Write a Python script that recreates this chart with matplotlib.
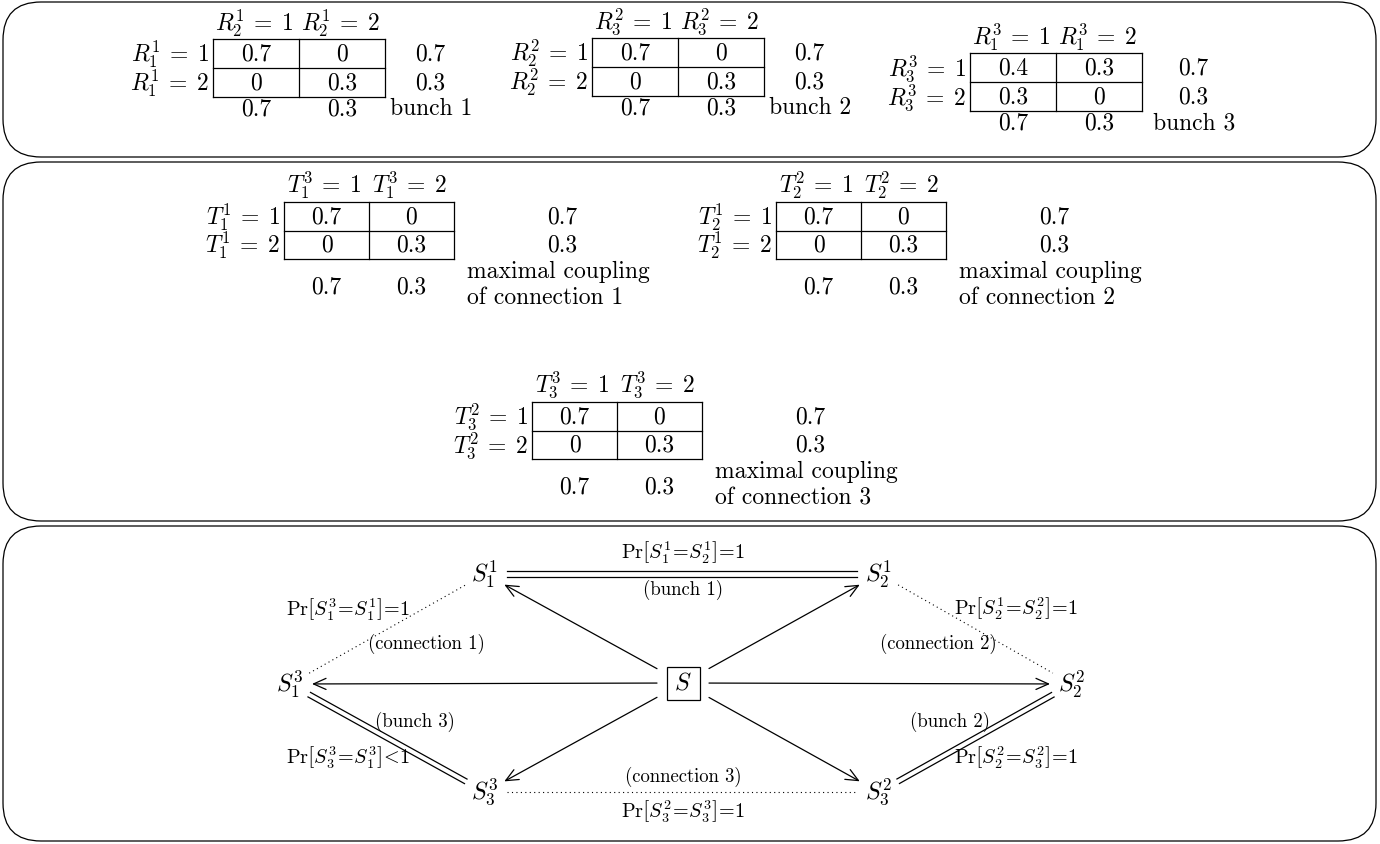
import matplotlib
matplotlib.use("Agg")
import matplotlib.pyplot as plt
from matplotlib.patches import FancyBboxPatch, Rectangle
import numpy as np

plt.rcParams['mathtext.fontset'] = 'cm'
plt.rcParams['font.family'] = 'cmr10'
plt.rcParams['axes.formatter.use_mathtext'] = True

# ---------------- data ----------------
values = [1, 2]
bunch_joint = [
    [[0.7, 0.0], [0.0, 0.3]],
    [[0.7, 0.0], [0.0, 0.3]],
    [[0.4, 0.3], [0.3, 0.0]],
]
bunch_row_vars = ['R_1^1', 'R_2^2', 'R_3^3']
bunch_col_vars = ['R_2^1', 'R_3^2', 'R_1^3']
bunch_captions = ['bunch 1', 'bunch 2', 'bunch 3']

connection_joint = [
    [[0.7, 0.0], [0.0, 0.3]],
    [[0.7, 0.0], [0.0, 0.3]],
    [[0.7, 0.0], [0.0, 0.3]],
]
connection_row_vars = ['T_1^1', 'T_2^1', 'T_3^2']
connection_col_vars = ['T_1^3', 'T_2^2', 'T_3^3']
connection_captions = [['maximal coupling', 'of connection 1'],
                       ['maximal coupling', 'of connection 2'],
                       ['maximal coupling', 'of connection 3']]

node_names = ['S_1^1', 'S_2^1', 'S_1^3', 'S_2^2', 'S_3^3', 'S_3^2']
bunch_edges = [('S_1^1', 'S_2^1'), ('S_1^3', 'S_3^3'), ('S_3^2', 'S_2^2')]
connection_edges = [('S_1^3', 'S_1^1'), ('S_2^1', 'S_2^2'), ('S_3^3', 'S_3^2')]
edge_texts = [
    r'$\mathrm{Pr}\left[S_1^1\!=\!S_2^1\right]\!=\!1$', '(bunch 1)',
    r'$\mathrm{Pr}\left[S_1^3\!=\!S_1^1\right]\!=\!1$', '(connection 1)',
    '(bunch 3)', r'$\mathrm{Pr}\left[S_3^3\!=\!S_1^3\right]\!<\!1$',
    '(connection 3)', r'$\mathrm{Pr}\left[S_3^2\!=\!S_3^3\right]\!=\!1$',
    r'$\mathrm{Pr}\left[S_2^1\!=\!S_2^2\right]\!=\!1$', '(connection 2)',
    '(bunch 2)', r'$\mathrm{Pr}\left[S_2^2\!=\!S_3^2\right]\!=\!1$',
]

# ---------------- layout ----------------
TFS = 17
MFS = 17
NFS = 17.5
SFS = 13.5
PFS = 14.5
LW = 0.9

fig = plt.figure(figsize=(13.8, 8.44), dpi=100)
ax = fig.add_axes([0, 0, 1, 1])
ax.set_xlim(0, 1380)
ax.set_ylim(844, 0)
ax.axis('off')

panels = [(3, 2, 1373, 155), (3, 162, 1373, 359), (3, 526, 1373, 315)]
for (x, y, w, h) in panels:
    ax.add_patch(FancyBboxPatch((x, y), w, h, boxstyle='round,pad=0,rounding_size=38',
                                fc='none', ec='black', lw=LW))


def fmt(v):
    return '{:g}'.format(round(v, 3))


def eq(var, v):
    return r'$%s\,=\;%d$' % (var, v)


def draw_table(left, top, cw, rh, rvar, cvar, joint, hdr_dy):
    joint = np.array(joint)
    for i in range(3):
        ax.plot([left, left + 2 * cw], [top + i * rh, top + i * rh], color='black', lw=LW)
    for j in range(3):
        ax.plot([left + j * cw, left + j * cw], [top, top + 2 * rh], color='black', lw=LW)
    for j, v in enumerate(values):
        ax.text(left + (j + 0.5) * cw - 2, top - hdr_dy, eq(cvar, v),
                ha='center', va='center', fontsize=MFS)
    for i, v in enumerate(values):
        ax.text(left - 4, top + (i + 0.5) * rh + 1, eq(rvar, v),
                ha='right', va='center', fontsize=MFS)
        for j in range(2):
            ax.text(left + (j + 0.5) * cw, top + (i + 0.5) * rh + 1, fmt(joint[i, j]),
                    ha='center', va='center', fontsize=TFS)
    return joint.sum(axis=1), joint.sum(axis=0)


# panel 1: bunches
b_pos = [(213, 39), (592, 38), (970, 53)]
b_mx = [45, 45, 51]
for k in range(3):
    left, top = b_pos[k]
    cw, rh = 86, 29
    rs, cs = draw_table(left, top, cw, rh, bunch_row_vars[k], bunch_col_vars[k], bunch_joint[k], 16)
    right, bottom = left + 2 * cw, top + 2 * rh
    for i in range(2):
        ax.text(right + b_mx[k], top + (i + 0.5) * rh + 1, fmt(rs[i]), ha='center', va='center', fontsize=TFS)
    for j in range(2):
        ax.text(left + (j + 0.5) * cw, bottom + 12, fmt(cs[j]), ha='center', va='center', fontsize=TFS)
    ax.text(right + b_mx[k] + 1, bottom + 12, bunch_captions[k], ha='center', va='center', fontsize=TFS)

# panel 2: connections
c_pos = [(284, 202), (776, 202), (532, 402)]
for k in range(3):
    left, top = c_pos[k]
    cw, rh = 85, 28.5
    rs, cs = draw_table(left, top, cw, rh, connection_row_vars[k], connection_col_vars[k],
                        connection_joint[k], 17)
    right, bottom = left + 2 * cw, top + 2 * rh
    for i in range(2):
        ax.text(right + 108, top + (i + 0.5) * rh + 1, fmt(rs[i]), ha='center', va='center', fontsize=TFS)
    for j in range(2):
        ax.text(left + (j + 0.5) * cw, bottom + 28, fmt(cs[j]), ha='center', va='center', fontsize=TFS)
    for li, line in enumerate(connection_captions[k]):
        ax.text(right + 13, bottom + 13 + 26 * li, line, ha='left', va='center', fontsize=TFS)

# panel 3: graph
node_xy = {'S_1^1': (485, 574), 'S_2^1': (879, 574), 'S_1^3': (290, 684),
           'S_2^2': (1072, 684), 'S_3^3': (485, 792), 'S_3^2': (879, 792)}
S_xy = np.array([683.0, 683.0])
for n in node_names:
    x, y = node_xy[n]
    ax.text(x, y, '$%s$' % n, ha='center', va='center', fontsize=NFS)
ax.add_patch(Rectangle((S_xy[0] - 16.5, S_xy[1] - 16.5), 33, 33, fc='none', ec='black', lw=LW))
ax.text(S_xy[0], S_xy[1], '$S$', ha='center', va='center', fontsize=NFS)


def trim(a, b, sa, sb):
    a = np.array(a, float)
    b = np.array(b, float)
    u = (b - a) / np.linalg.norm(b - a)
    return a + u * sa, b - u * sb, u


NODE_GAP = 22
for n in node_names:
    p = np.array(node_xy[n], float)
    u = (p - S_xy) / np.linalg.norm(p - S_xy)
    sa = min(26 / max(abs(u[0]), 1e-9), 26 / max(abs(u[1]), 1e-9))
    a = S_xy + u * sa
    b = p - u * NODE_GAP
    ax.annotate('', xy=b, xytext=a,
                arrowprops=dict(arrowstyle='->,head_length=0.9,head_width=0.4', lw=LW,
                                color='black', shrinkA=0, shrinkB=0, mutation_scale=10))

for (n0, n1) in bunch_edges:
    a, b, u = trim(node_xy[n0], node_xy[n1], NODE_GAP, NODE_GAP)
    perp = np.array([-u[1], u[0]])
    for s in (-2.6, 2.6):
        ax.plot([a[0] + perp[0] * s, b[0] + perp[0] * s], [a[1] + perp[1] * s, b[1] + perp[1] * s],
                color='black', lw=LW)

for (n0, n1) in connection_edges:
    a, b, u = trim(node_xy[n0], node_xy[n1], NODE_GAP, NODE_GAP)
    ax.plot([a[0], b[0]], [a[1], b[1]], color='black', lw=0.8, linestyle=(0, (1, 3)))

edge_text_xy = [(683, 553), (683, 590), (348, 610), (426, 644), (415, 722), (348, 758),
                (683, 777), (683, 812), (1016, 609), (938, 644), (950, 722), (1016, 758)]
for t, (x, y) in zip(edge_texts, edge_text_xy):
    ax.text(x, y, t, ha='center', va='center', fontsize=PFS if t.startswith('$') else SFS)

fig.savefig('out.png', dpi=100)
